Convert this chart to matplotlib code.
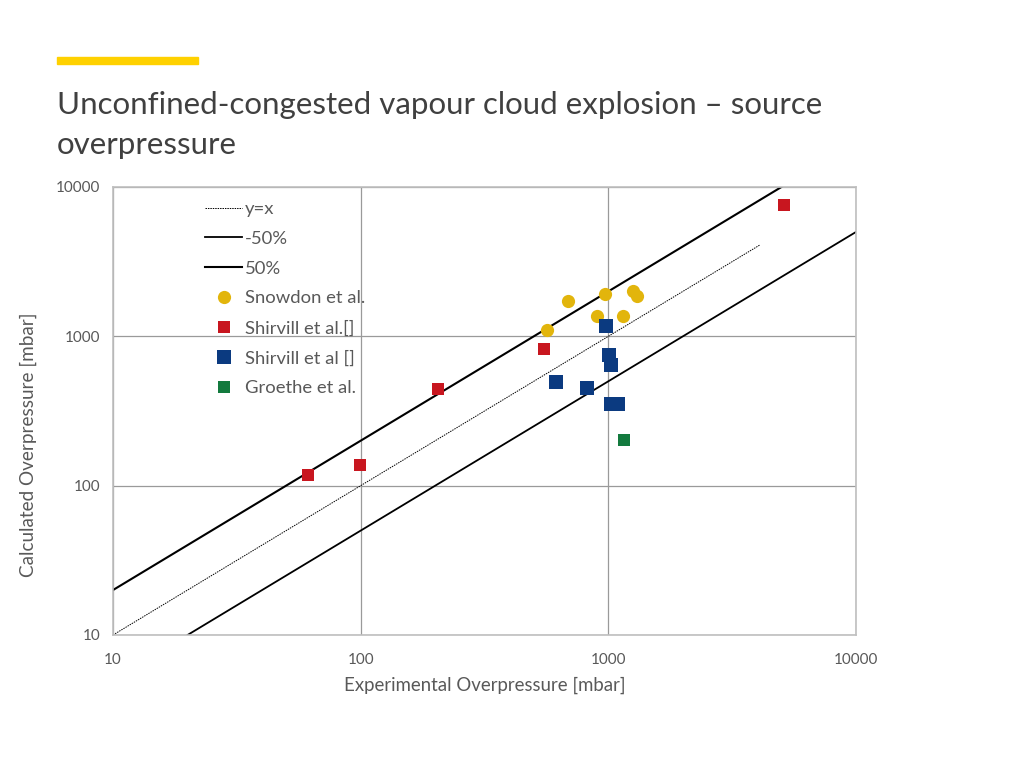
import matplotlib.pyplot as plt
from matplotlib.patches import Rectangle

# reference lines
eq_x = [10, 4100]
eq_y = [10, 4100]
lower_x = [20, 10000]
lower_y = [10, 5000]
upper_x = [10, 5000]
upper_y = [20, 10000]

# measured vs calculated overpressure [mbar]
snowdon_exp = [565, 687, 899, 969, 1146, 1256, 1304]
snowdon_calc = [1104, 1726, 1371, 1923, 1371, 2014, 1867]

shirvill1_exp = [61, 99, 205, 550, 5115]
shirvill1_calc = [118, 138, 444, 824, 7586]

shirvill2_exp = [977, 1009, 1026, 614, 817, 1026, 1089]
shirvill2_calc = [1175, 750, 643, 493, 453, 352, 352]

groethe_exp = [1159]
groethe_calc = [202]

ticks = [10, 100, 1000, 10000]
tick_labels = ["10", "100", "1000", "10000"]

text_color = "#595959"
plt.rcParams["font.family"] = ["Lato", "DejaVu Sans"]

fig = plt.figure(figsize=(10.24, 7.68), dpi=100)
ax = fig.add_axes([113 / 1024, 1 - 635 / 768, 743 / 1024, 448 / 768])

fig.patches.append(Rectangle((57 / 1024, 1 - 64 / 768), 141 / 1024, 7 / 768,
                             transform=fig.transFigure, color="#FFD100", zorder=5))
fig.text(57 / 1024, 1 - 125 / 768,
         "Unconfined-congested vapour cloud explosion \u2013 source\noverpressure",
         fontsize=22.5, color="#404040", va="center", ha="left", linespacing=1.54)

ax.plot(eq_x, eq_y, color="black", lw=0.7, ls=(0, (1.5, 1)), label="y=x", zorder=2)
ax.plot(lower_x, lower_y, color="black", lw=1.3, label="-50%", zorder=2)
ax.plot(upper_x, upper_y, color="black", lw=1.5, label="50%", zorder=2)

ax.plot(snowdon_exp, snowdon_calc, "o", color="#E2B50C", ms=9.5, mew=0,
        label="Snowdon et al.", zorder=3)
ax.plot(shirvill1_exp, shirvill1_calc, "s", color="#C8161F", ms=9, mew=0,
        label="Shirvill et al.[]", zorder=3)
ax.plot(shirvill2_exp, shirvill2_calc, "s", color="#0B3A80", ms=10, mew=0,
        label="Shirvill et al []", zorder=3)
ax.plot(groethe_exp, groethe_calc, "s", color="#137A3E", ms=8.5, mew=0,
        label="Groethe et al.", zorder=3)

ax.set_xscale("log")
ax.set_yscale("log")
ax.set_xlim(10, 10000)
ax.set_ylim(10, 10000)
ax.set_xticks(ticks)
ax.set_xticklabels(tick_labels)
ax.set_yticks(ticks)
ax.set_yticklabels(tick_labels)
ax.minorticks_off()
ax.tick_params(length=0, labelsize=11, labelcolor=text_color)
ax.tick_params(axis="x", pad=13)
ax.tick_params(axis="y", pad=9)
ax.grid(True, color="#9a9a9a", lw=0.9)
ax.set_axisbelow(True)
for sp in ax.spines.values():
    sp.set_color("#bfbfbf")
    sp.set_linewidth(1.2)

ax.set_xlabel("Experimental Overpressure [mbar]", fontsize=13.4, color=text_color,
              labelpad=7)
fig.text(28 / 1024, 1 - 445 / 768, "Calculated Overpressure [mbar]", rotation=90,
         fontsize=13.6, color=text_color, ha="center", va="center")

ax.legend(loc="upper left", bbox_to_anchor=(0.112, 0.989), frameon=False,
          fontsize=13.3, labelcolor=text_color, handlelength=2.0,
          handletextpad=0.15, labelspacing=0.745, borderpad=0)

fig.savefig("out.png", dpi=100)
